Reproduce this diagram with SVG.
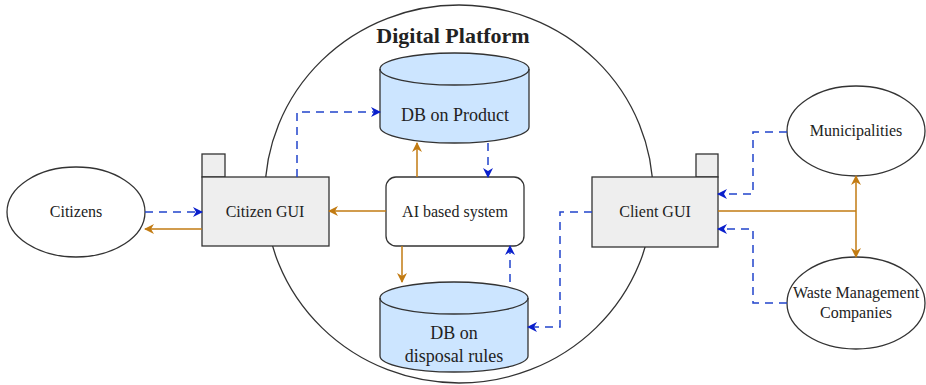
<svg xmlns="http://www.w3.org/2000/svg" width="926" height="385" viewBox="0 0 926 385">
<defs>
<style>
text{font-family:'Liberation Serif','Times New Roman',Times,serif;fill:#222;text-anchor:middle}
.t{font-size:16px}
.tb{font-size:18px}
.sh{stroke:#333;stroke-width:1.3}
.gui{fill:#eeeeee}
.db{fill:#cce5ff}
.o{fill:none;stroke:#c27b12;stroke-width:1.5}
.b{fill:none;stroke:#2244cc;stroke-width:1.5;stroke-dasharray:8 6}
</style>
<marker id="ao" viewBox="0 0 10 10" refX="9" refY="5" markerWidth="10" markerHeight="10" markerUnits="userSpaceOnUse" orient="auto">
<path d="M0,0 L10,5 L0,10 L3,5 z" fill="#c27b12"/>
</marker>
<marker id="ab" viewBox="0 0 10 10" refX="9" refY="5" markerWidth="10" markerHeight="10" markerUnits="userSpaceOnUse" orient="auto">
<path d="M0,0 L10,5 L0,10 L3,5 z" fill="#0a1fcc"/>
</marker>
</defs>
<rect width="926" height="385" fill="#ffffff"/>
<g font-family="Liberation Serif, serif">

<g id="platform">
<ellipse cx="459" cy="194" rx="194" ry="189" fill="#ffffff" class="sh"/>
<text x="453" y="43" style="font-size:22px;font-weight:bold">Digital Platform</text>
</g>

<g id="citizens">
<ellipse cx="76" cy="212" rx="69" ry="45" fill="#ffffff" class="sh"/>
<text x="76" y="217" class="t">Citizens</text>
</g>

<g id="citizen-gui">
<rect x="202" y="154" width="23" height="23" class="gui sh"/>
<rect x="202" y="177" width="127" height="69" class="gui sh"/>
<text x="265" y="217" class="t">Citizen GUI</text>
</g>

<g id="ai-system">
<rect x="386" y="177" width="138" height="69" rx="10" fill="#ffffff" class="sh"/>
<text x="455" y="217" class="t">AI based system</text>
</g>

<g id="db-product">
<path d="M380,69 L380,127 A74.5,16 0 0 0 529,127 L529,69 A74.5,16 0 0 0 380,69 Z" class="db sh"/>
<path d="M380,69 A74.5,16 0 0 0 529,69" fill="none" class="sh"/>
<text x="455" y="121" class="tb">DB on Product</text>
</g>

<g id="db-disposal">
<path d="M380,298 L380,356 A74,16 0 0 0 528,356 L528,298 A74,16 0 0 0 380,298 Z" class="db sh"/>
<path d="M380,298 A74,16 0 0 0 528,298" fill="none" class="sh"/>
<text x="454" y="339" class="tb">DB on</text>
<text x="454" y="362" class="tb">disposal rules</text>
</g>

<g id="client-gui">
<rect x="696" y="154" width="22" height="23" class="gui sh"/>
<rect x="592" y="177" width="126" height="70" class="gui sh"/>
<text x="655" y="217" class="t">Client GUI</text>
</g>

<g id="municipalities">
<ellipse cx="856" cy="131" rx="69" ry="45" fill="#ffffff" class="sh"/>
<text x="856" y="136" class="t">Municipalities</text>
</g>

<g id="waste">
<ellipse cx="856" cy="303" rx="69" ry="46" fill="#ffffff" class="sh"/>
<text x="856" y="298" class="t">Waste Management</text>
<text x="856" y="318" class="t">Companies</text>
</g>

<g id="connectors">
<path d="M145,212 L202,212" class="b" marker-end="url(#ab)"/>
<path d="M202,229 L145,229" class="o" marker-end="url(#ao)"/>
<path d="M386,211 L329,211" class="o" marker-end="url(#ao)"/>
<path d="M297,177 L297,112 L380,112" class="b" marker-end="url(#ab)"/>
<path d="M417,177 L417,143" class="o" marker-end="url(#ao)"/>
<path d="M488,143 L488,177" class="b" marker-end="url(#ab)"/>
<path d="M402,246 L402,282" class="o" marker-end="url(#ao)"/>
<path d="M510,282 L510,246" class="b" marker-end="url(#ab)"/>
<path d="M592,212 L560,212 L560,327 L528,327" class="b" marker-end="url(#ab)"/>
<path d="M718,211 L856,211" class="o"/>
<path d="M856,211 L856,176" class="o" marker-end="url(#ao)"/>
<path d="M856,211 L856,257" class="o" marker-end="url(#ao)"/>
<path d="M787,132 L753,132 L753,194 L718,194" class="b" marker-end="url(#ab)"/>
<path d="M787,303 L753,303 L753,229 L718,229" class="b" marker-end="url(#ab)"/>
</g>
</g>
</svg>
